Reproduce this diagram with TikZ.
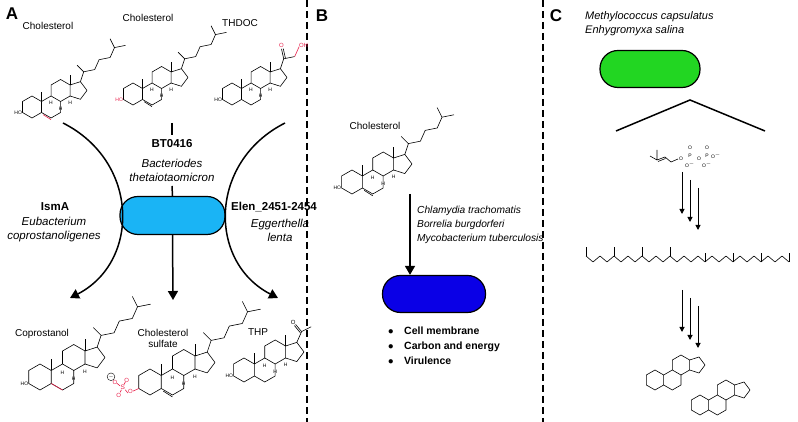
\documentclass[tikz,border=0pt]{standalone}
\usepackage{fontspec}
\setmainfont{Liberation Sans}
\usetikzlibrary{arrows.meta}
\definecolor{cyanp}{HTML}{1AB4F5}
\definecolor{bluep}{HTML}{0A00E6}
\definecolor{greenp}{HTML}{22D622}
\definecolor{redc}{HTML}{E8204A}
\newcommand\mycore{%
  \draw[bond] (8.66,5)--(0,10)--(-8.66,5)--(-8.66,-5)--(0,-10)--(8.66,-5)--cycle;
  \draw[bond] (8.66,5)--(17.32,10)--(25.98,5)--(25.98,-5)--(17.32,-10)--(8.66,-5);
  \draw[bond] (17.32,10)--(17.32,20)--(25.98,25)--(34.64,20)--(34.64,10)--(25.98,5);
  \draw[bond] (34.64,20)--(44,23)--(50,15)--(44,7)--(34.64,10);}
\newcommand\myster{%
  \mycore
  \draw[bond] (8.66,5)--(8.66,14) (34.64,20)--(34.64,29);
  \node[tiny] at (17.32,3.5) {H};
  \node[tiny] at (25.98,-1.5) {H};
  \node[tiny] at (34.64,4) {H};}
\newcommand\mychol{%
  \draw[bond] (44,23)--(47,32)--(41,38) (47,32)--(57,34)--(61,43)--(71,45)--(75,54)--(71,62) (75,54)--(85,56);}
\newcommand\myho[1][black]{\node[tiny,#1,anchor=east] at (-8.66,-5) {HO};}
\tikzset{
 x=1pt,y=1pt,
 bond/.style={line width=0.6pt,line join=round},
 pill/.style={draw,line width=1.2pt,rounded corners=18pt,minimum width=105pt,minimum height=38pt},
 lab/.style={font=\fontsize{10}{11}\selectfont,inner sep=0pt},
 sp/.style={font=\fontsize{11.5}{14}\selectfont\itshape,align=center,inner sep=0pt},
 bd/.style={font=\fontsize{11.5}{14}\selectfont\bfseries,inner sep=0pt},
 arr/.style={line width=1.5pt,-{Triangle[length=9pt,width=10pt]}},
 tiny/.style={font=\fontsize{5}{6}\selectfont,inner sep=0.3pt},
}
\begin{document}
\begin{tikzpicture}
\useasboundingbox (0,0) rectangle (798,422);
\draw[line width=1.2pt,dash pattern=on 7pt off 4pt] (307,422)--(307,0);
\draw[line width=1.2pt,dash pattern=on 7pt off 4pt] (543,422)--(543,0);
\node[font=\fontsize{17}{18}\selectfont\bfseries] (LA) at (12,408) {A};
\node[font=\fontsize{17}{18}\selectfont\bfseries] (LB) at (322,406) {B};
\node[font=\fontsize{17}{18}\selectfont\bfseries] (LC) at (556,406) {C};

% ===== Panel A top
\begin{scope}[shift={(32,315)},scale=1.1]
 \myster \mychol \myho
 \draw[bond,redc] (10.2,-7)--(17.3,-11.5);
\end{scope}
\node[lab] (t1) at (48,396) {Cholesterol};
\begin{scope}[shift={(133,328)},scale=1.1]
 \myster \mychol \myho[redc]
 \draw[bond] (10.2,-7)--(17.3,-11.5);
\end{scope}
\node[lab] (t2) at (148,404) {Cholesterol};
\begin{scope}[shift={(232,328)},scale=1.1]
 \myster \myho
 \draw[bond] (44,23)--(47,32)--(57,34);
 \draw[bond] (47,32)--(45,41) (48.6,32.4)--(46.6,41.2);
 \draw[bond,redc] (57,34)--(61,43);
 \node[tiny,redc,font=\fontsize{6}{7}\selectfont] at (65,44) {OH};
 \node[tiny,redc,font=\fontsize{6}{7}\selectfont] at (45,44.5) {O};
\end{scope}
\node[lab] (t3) at (240,399) {THDOC};

% ===== Panel A center
\node[pill,fill=cyanp] (p1) at (172.5,206.5) {};
\node[bd] (bt) at (172,278) {BT0416};
\node[sp] (btsp) at (172,252) {Bacteriodes\\thetaiotaomicron};
\coordinate (tk1) at (172,299);
\coordinate (tk2) at (172,287);
\draw[line width=1.5pt] (tk1)--(tk2);
\coordinate (tk3) at (172,236);
\draw[line width=1.5pt] (tk3)--(p1.north);
\coordinate (c0) at (173,122);
\draw[arr] (p1.south)--(c0);
\coordinate (l0) at (63,299);
\coordinate (l1) at (70,124);
\draw[arr] (l0) .. controls (140,260) and (140,160) .. (l1);
\coordinate (r0) at (285,299);
\coordinate (r1) at (278,124);
\draw[arr] (r0) .. controls (208,260) and (208,160) .. (r1);
\node[bd] (ism) at (55,215) {IsmA};
\node[sp] (eub) at (54,192) {Eubacterium\\coprostanoligenes};
\node[bd,anchor=west] (elen) at (231,215) {Elen\_2451-2454};
\node[sp] (egg) at (280,192) {Eggerthella\\lenta};

% ===== Panel A bottom
\begin{scope}[shift={(40,45)},scale=1.3]
 \myster \mychol \myho
 \draw[bond,redc] (8.66,-5)--(17.32,-10);
\end{scope}
\node[lab] (b1) at (42,88) {Coprostanol};
\begin{scope}[shift={(150,40)},scale=1.3]
 \myster \mychol
 \draw[bond] (10.2,-7)--(17.3,-11.5);
 \begin{scope}[redc]
  \draw[bond] (-8.66,-5)--(-13,-7);
  \node[tiny,font=\fontsize{6}{7}\selectfont] at (-15,-7.5) {O};
  \draw[bond] (-17,-8.5)--(-19,-6);
  \node[tiny,font=\fontsize{6.5}{7}\selectfont] at (-21,-4) {S};
  \node[tiny,font=\fontsize{6}{7}\selectfont] at (-18,1.5) {O};
  \node[tiny,font=\fontsize{6}{7}\selectfont] at (-24,-10) {O};
  \node[tiny,font=\fontsize{6}{7}\selectfont] at (-27,0) {O};
  \draw[bond] (-20,-2)--(-19,0) (-22,-6)--(-23,-8) (-23,-3)--(-25.5,-1);
 \end{scope}
 \node[draw,circle,inner sep=0.3pt,font=\fontsize{4}{4}\selectfont] at (-30,4) {$-$};
\end{scope}
\node[lab,align=center] (b2) at (163,84) {Cholesterol\\sulfate};
\begin{scope}[shift={(244,52)},scale=1.2]
 \myster \myho
 \draw[bond] (44,23)--(48,32)--(56,36);
 \draw[bond] (48,32)--(43,38) (47,31)--(42,37);
 \node[tiny,font=\fontsize{6}{7}\selectfont] at (41,40) {O};
\end{scope}
\node[lab] (b3) at (258,90) {THP};

% ===== Panel B
\begin{scope}[shift={(352,240)},scale=1.2]
 \myster \mychol \myho
 \draw[bond] (10.2,-7)--(17.3,-11.5);
\end{scope}
\node[lab] (bc) at (375,296) {Cholesterol};
\coordinate (bs) at (410,228);
\node[pill,fill=bluep,minimum width=103pt,minimum height=37pt] (p2) at (434,128) {};
\draw[arr] (bs)--(p2.north -| bs);
\node[sp,align=left,anchor=west,font=\fontsize{10.2}{14}\selectfont\itshape] (bsp) at (417,197) {Chlamydia trachomatis\\Borrelia burgdorferi\\Mycobacterium tuberculosis};
\node[bd,align=left,anchor=west,font=\fontsize{10.5}{15}\selectfont\bfseries] (bl) at (388,76) {$\bullet$\quad Cell membrane\\$\bullet$\quad Carbon and energy\\$\bullet$\quad Virulence};

% ===== Panel C
\node[sp,align=left,anchor=west,font=\fontsize{11}{14}\selectfont\itshape] (csp) at (585,398) {Methylococcus capsulatus\\Enhygromyxa salina};
\node[pill,fill=greenp,minimum width=100pt,minimum height=37pt] (p3) at (650,353) {};
\coordinate (tl) at (616,291);
\coordinate (tt) at (690,322);
\coordinate (tr) at (765,291);
\draw[line width=1.5pt] (tl)--(tt)--(tr);
% DMAPP
\draw[bond] (650,266)--(657,262)--(657,272) (657,262)--(665,265)--(671,260)--(678,263);
\draw[bond] (658,260.5)--(665.5,263.5);
\node[tiny] at (681,263) {O};
\node[tiny] at (690,266) {P};
\node[tiny] at (690,274) {O};
\node[tiny] at (690,257) {O$^{-}$};
\node[tiny] at (699,263) {O};
\node[tiny] at (707,266) {P};
\node[tiny] at (707,274) {O};
\node[tiny] at (707,257) {O$^{-}$};
\node[tiny] at (716,266) {O$^{-}$};
\foreach \i/\xx in {0/682,1/690,2/698} {
 \coordinate (ua\i) at (\xx,{250-8*\i});
 \coordinate (ub\i) at (\xx,{208-8*\i});
 \draw[line width=1pt,-{Triangle[length=5pt,width=5pt]}] (ua\i)--(ub\i);
 \coordinate (va\i) at (\xx,{132-8*\i});
 \coordinate (vb\i) at (\xx,{90-8*\i});
 \draw[line width=1pt,-{Triangle[length=5pt,width=5pt]}] (va\i)--(vb\i);
}
% squalene
\draw[bond] (586,166) \foreach \k in {1,...,29} { -- ({586+7*\k},{166-6*mod(\k,2)}) };
\foreach \m in {0,4,8,12,17,21,25,29} { \draw[bond] ({586+7*\m},{166-6*mod(\m,2)})--++(0,9); }
% skeletons
\begin{scope}[shift={(655,42)}] \mycore \end{scope}
\begin{scope}[shift={(700,17)}] \mycore \end{scope}
\end{tikzpicture}
\end{document}
